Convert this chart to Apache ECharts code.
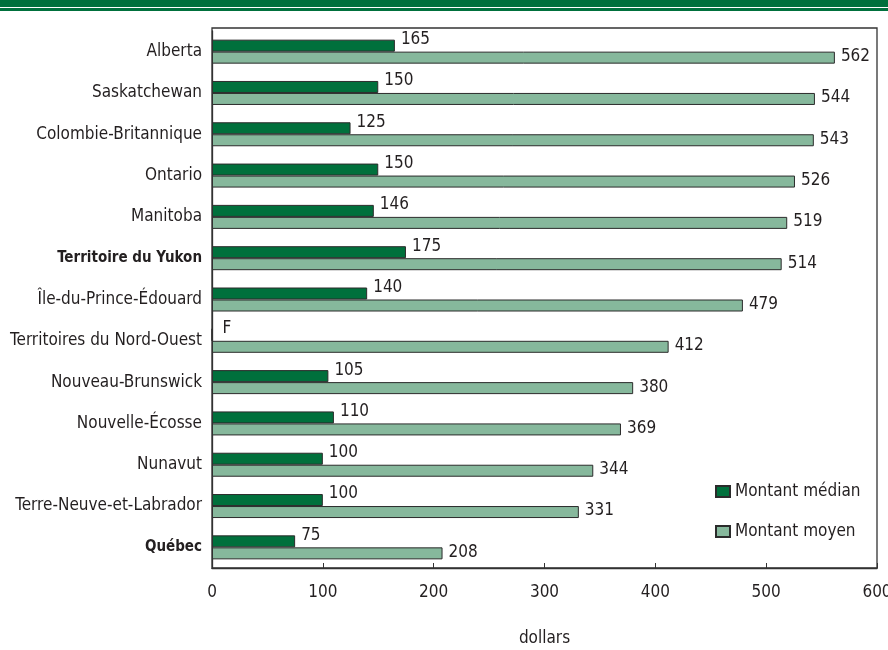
<!DOCTYPE html>
<html>
<head>
<meta charset="utf-8">
<script src="https://cdn.jsdelivr.net/npm/echarts@6/dist/echarts.min.js"></script>
<style>
html,body{margin:0;padding:0;background:#fff;}
#chart{width:888px;height:650px;}
</style>
</head>
<body>
<div id="chart"></div>
<script>
var categories = ["Alberta","Saskatchewan","Colombie-Britannique","Ontario","Manitoba","Territoire du Yukon","Île-du-Prince-Édouard","Territoires du Nord-Ouest","Nouveau-Brunswick","Nouvelle-Écosse","Nunavut","Terre-Neuve-et-Labrador","Québec"];
var medianValues = [165,150,125,150,146,175,140,null,105,110,100,100,75];
var meanValues = [562,544,543,526,519,514,479,412,380,369,344,331,208];
var xTicks = [0,100,200,300,400,500,600];
var seriesNames = ["Montant médian","Montant moyen"];
var axisTitle = "dollars";
var altLabels = ["Territoire du Yukon","Québec"];

var FONT = '"DejaVu Sans Condensed","Liberation Sans Narrow",sans-serif';
var FS = 17;
var TXT = '#231f20';
var DARK = '#00703c';
var LIGHT = '#86b89c';

var medianData = medianValues.map(function(v){
  if (v === null) {
    return {value: 0, label: {formatter: 'F', distance: 10}};
  }
  return v;
});

var chart = echarts.init(document.getElementById('chart'), null, {renderer:'canvas'});
chart.setOption({
  animation: false,
  backgroundColor: '#fff',
  textStyle: {fontFamily: FONT, color: TXT},
  graphic: [
    {type:'rect', shape:{x:0,y:0,width:888,height:7}, style:{fill:DARK}, silent:true},
    {type:'rect', shape:{x:0,y:8,width:888,height:3}, style:{fill:DARK}, silent:true},
    {type:'rect', shape:{x:212,y:28,width:665,height:540}, style:{fill:'none', stroke:'#333', lineWidth:1.3}, silent:true, z:10}
  ],
  grid: {left:212, right:11, top:31, height:537, containLabel:false, outerBoundsMode:'none'},
  legend: {
    orient:'vertical', left:715, top:483, padding:0,
    itemWidth:14, itemHeight:11, itemGap:23,
    icon:'rect',
    textStyle:{fontFamily:FONT, fontSize:FS, color:TXT},
    data: seriesNames
  },
  xAxis: {
    type:'value', min:0, max:600, interval:100,
    name: axisTitle, nameLocation:'middle', nameGap:62,
    nameTextStyle:{fontFamily:FONT, fontSize:FS, color:TXT},
    axisLine:{show:true, lineStyle:{color:'#333', width:1.3}},
    axisTick:{show:true, inside:true, length:5, lineStyle:{color:'#333'}},
    splitLine:{show:false},
    axisLabel:{margin:16, fontFamily:FONT, fontSize:FS, color:TXT,
      formatter:function(v){ return xTicks.indexOf(v) >= 0 ? String(v) : ''; }}
  },
  yAxis: {
    type:'category', data: categories, inverse:true,
    axisLine:{show:true, lineStyle:{color:'#333', width:1.3}},
    axisTick:{show:false},
    axisLabel:{margin:10, fontFamily:FONT, fontSize:FS, color:TXT,
      formatter:function(v){ return altLabels.indexOf(v) >= 0 ? '{alt|' + v + '}' : v; },
      rich:{alt:{fontFamily:FONT, fontSize:15, fontWeight:'bold', color:TXT}}
    }
  },
  series: [
    {
      name: seriesNames[0], type:'bar', data: medianData,
      barWidth:12, barGap:'0%', barCategoryGap:'0%',
      itemStyle:{color:DARK, borderColor:'#2b2b2b', borderWidth:1},
      label:{show:true, position:'right', distance:6, offset:[0,-6],
        fontFamily:FONT, fontSize:FS, color:TXT}
    },
    {
      name: seriesNames[1], type:'bar', data: meanValues,
      barWidth:12, barGap:'0%',
      itemStyle:{color:LIGHT, borderColor:'#2b2b2b', borderWidth:1},
      label:{show:true, position:'right', distance:6, offset:[0,-1],
        fontFamily:FONT, fontSize:FS, color:TXT}
    }
  ]
});
</script>
</body>
</html>
